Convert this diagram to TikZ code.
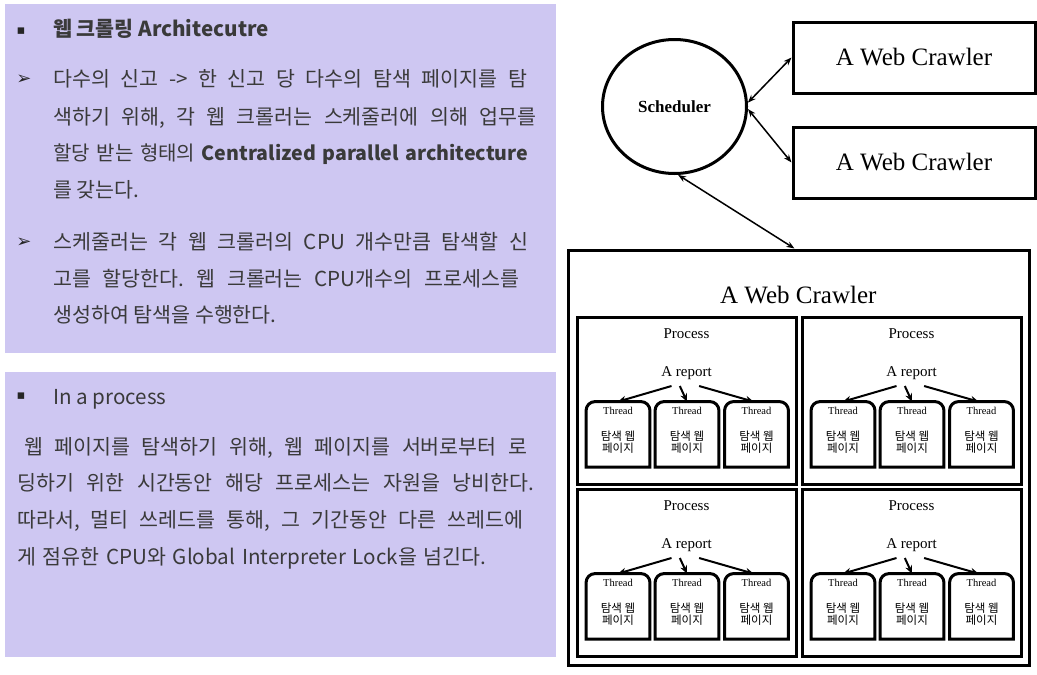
\documentclass[tikz,border=0pt]{standalone}
\usepackage{fontspec}
\setmainfont{Noto Sans CJK KR}
\newfontfamily\serifA{Liberation Serif}
\newfontfamily\symf{DejaVu Sans}
\usetikzlibrary{arrows.meta,shapes.geometric,calc}
\definecolor{panel}{RGB}{206,199,242}
\definecolor{ink}{RGB}{58,58,58}
\frenchspacing
\tikzset{
 panelbox/.style={fill=panel, draw=none, inner sep=0, anchor=north west},
 ptext/.style={anchor=base west, inner sep=0, text=ink, font=\fontsize{20.6}{24}\selectfont},
 bul/.style={inner sep=0, text=black!85, font=\symf\fontsize{13}{14}\selectfont},
 arrb/.style={inner sep=0, text=black!85, font=\symf\fontsize{18}{18}\selectfont},
 boxA/.style={draw, line width=3pt, inner sep=0},
 crawl/.style={font=\serifA\fontsize{25}{30}\selectfont},
 ser/.style={inner sep=0, anchor=base, font=\serifA\fontsize{15}{18}\selectfont},
 thr/.style={inner sep=0, minimum width=63.5, minimum height=65},
 thrlab/.style={inner sep=0, anchor=base, font=\serifA\fontsize{10.5}{12}\selectfont},
 krs/.style={inner sep=0, anchor=base, font=\fontsize{11.5}{12}\selectfont},
 dbl/.style={line width=1.5pt, {Stealth[length=8,width=6]}-{Stealth[length=8,width=6]}},
 rarr/.style={line width=2pt, -{Stealth[length=8,width=7]}},
}
\begin{document}
\begin{tikzpicture}[x=1pt,y=-1pt]
\useasboundingbox (0,0) rectangle (1037,675);
\fill[white] (0,0) rectangle (1037,675);
% left panels
\node[panelbox, minimum width=551, minimum height=349] (pan1) at (5,4) {};
\node[panelbox, minimum width=551, minimum height=285] (pan2) at (5,372) {};
% top panel text
\node[bul] (b1) at (21,31) {▪};
\node[ptext] (t1) at (53,36) {\bfseries 웹 크롤링 Architecutre};
\node[arrb] (a1) at (24,80) {➢};
\node[ptext] (t2) at (53,86) {\makebox[474pt][s]{다수의 신고 -> 한 신고 당 다수의 탐색 페이지를 탐}};
\node[ptext] (t3) at (53,124) {\makebox[483pt][s]{색하기 위해, 각 웹 크롤러는 스케줄러에 의해 업무를}};
\node[ptext] (t4) at (53,160) {\fontsize{20}{24}\selectfont\makebox[475pt][s]{할당 받는 형태의 {\bfseries\fontsize{19.6}{24}\selectfont Centralized parallel architecture}}};
\node[ptext] (t5) at (53,197) {를 갖는다.};
\node[arrb] (a2) at (24,243) {➢};
\node[ptext] (t6) at (53,249) {\makebox[475pt][s]{스케줄러는 각 웹 크롤러의 CPU 개수만큼 탐색할 신}};
\node[ptext] (t7) at (53,286) {\makebox[466pt][s]{고를 할당한다. 웹 크롤러는 CPU개수의 프로세스를}};
\node[ptext] (t8) at (53,322) {생성하여 탐색을 수행한다.};
% bottom panel text
\node[bul] (b2) at (21,396) {▪};
\node[ptext] (u0) at (53,404) {In a process};
\node[ptext] (u1) at (24,454) {\makebox[503pt][s]{웹 페이지를 탐색하기 위해, 웹 페이지를 서버로부터 로}};
\node[ptext] (u2) at (17,490) {\makebox[517pt][s]{딩하기 위한 시간동안 해당 프로세스는 자원을 낭비한다.}};
\node[ptext] (u3) at (17,527) {\makebox[506pt][s]{따라서, 멀티 쓰레드를 통해, 그 기간동안 다른 쓰레드에}};
\node[ptext] (u4) at (17,564) {\makebox[469pt][s]{게 점유한 CPU와 Global Interpreter Lock을 넘긴다.}};
% right diagram
\node[ellipse, draw, line width=3pt, minimum width=144, minimum height=134, inner sep=0,
      font=\serifA\bfseries\fontsize{17}{20}\selectfont] (sch) at (674.5,106.5) {Scheduler};
\node[boxA, crawl, minimum width=242, minimum height=71] (c1) at (914,57.5) {A Web Crawler};
\node[boxA, crawl, minimum width=242, minimum height=71] (c2) at (914,162.5) {A Web Crawler};
\node[boxA, minimum width=461, minimum height=415] (big) at (798.5,457.5) {};
\node[crawl, anchor=base, inner sep=0] (bigt) at (798.3,303) {A Web Crawler};
\draw[dbl] (sch.3) -- (c1.west);
\draw[dbl] (sch.-2) -- (c2.west);
\draw[dbl] (sch.-87) -- ($(big.north)+(-4,0)$);
\foreach \cx/\cy/\n in {686.5/400.5/1, 911.5/400.5/2, 686.5/572.5/3, 911.5/572.5/4}{
  \node[boxA, minimum width=219, minimum height=167] (p\n) at (\cx,\cy) {};
  \node[ser] (pl\n) at (\cx,\cy-62.5) {Process};
  \node[ser] (r\n) at (\cx,\cy-23.8) {A report};
  \foreach \k/\dx in {1/-68.5, 2/0.5, 3/70}{
    \node[thr] (t\n-\k) at (\cx+\dx,\cy+33.8) {};
    \draw[line width=3pt, rounded corners=9pt] (t\n-\k.south west) -- (t\n-\k.north west) -- (t\n-\k.north east) [sharp corners] -- (t\n-\k.south east) -- cycle;
    \node[thrlab] (th\n-\k) at (\cx+\dx,\cy+13.5) {Thread};
    \node[krs] (ka\n-\k) at (\cx+\dx,\cy+40.2) {탐색 웹};
    \node[krs] (kb\n-\k) at (\cx+\dx,\cy+52.2) {페이지};
  }
  \draw[rarr] ($(r\n.base)+(-15,9.3)$) -- (t\n-1.north);
  \draw[rarr] ($(r\n.base)+(-6.7,9.3)$) -- (t\n-2.north);
  \draw[rarr] ($(r\n.base)+(12.6,9.3)$) -- ($(t\n-3.north)+(-3,0)$);
}
\end{tikzpicture}
\end{document}
